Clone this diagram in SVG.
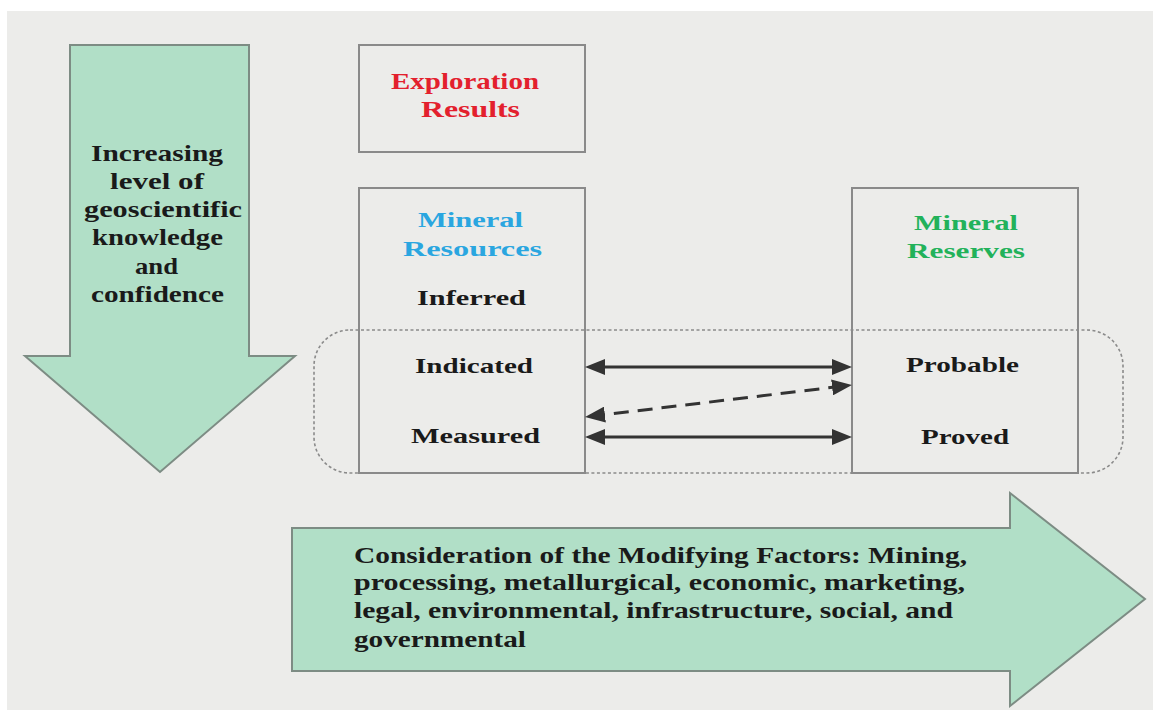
<svg xmlns="http://www.w3.org/2000/svg" width="1153" height="710" viewBox="0 0 1153 710">
<style>
.t{font-family:"Liberation Serif","Times New Roman",serif;font-weight:bold;font-size:22px;fill:#1a1a1a}
.l{font-size:23px}
.b{font-size:24px}
.red{fill:#e3202d;font-size:24px}
.cyan{fill:#2aa6e0}
.green{fill:#22b25a}
.box{fill:none;stroke:#8a8a8a;stroke-width:2}
.big{fill:#b1dfc7;stroke:#7d8c84;stroke-width:2}
.conn{stroke:#333;stroke-width:3;fill:none}
</style>
<defs>
<marker id="ah" markerUnits="userSpaceOnUse" markerWidth="20" markerHeight="16" refX="15" refY="8" orient="auto-start-reverse" viewBox="0 0 20 16">
<path d="M0,0 L20,8 L0,16 z" fill="#333"/>
</marker>
</defs>
<rect x="0" y="0" width="1153" height="710" fill="#ffffff"/>
<rect x="7" y="11" width="1146" height="699" fill="#ececea"/>

<g id="knowledge-arrow">
<path class="big" d="M70,45 L249,45 L249,356 L295,356 L160,472 L25,356 L70,356 Z"/>
<text class="t l" x="91" y="161" textLength="132" lengthAdjust="spacingAndGlyphs">Increasing</text>
<text class="t l" x="110" y="189" textLength="94" lengthAdjust="spacingAndGlyphs">level of</text>
<text class="t l" x="84" y="217" textLength="158" lengthAdjust="spacingAndGlyphs">geoscientific</text>
<text class="t l" x="92" y="245" textLength="131" lengthAdjust="spacingAndGlyphs">knowledge</text>
<text class="t l" x="135" y="274" textLength="43" lengthAdjust="spacingAndGlyphs">and</text>
<text class="t l" x="91" y="302" textLength="133" lengthAdjust="spacingAndGlyphs">confidence</text>
</g>

<g id="modifying-factors-arrow">
<path class="big" d="M292,528 L1010,528 L1010,493 L1145,599 L1010,706 L1010,671 L292,671 Z"/>
<text class="t b" x="354" y="563" textLength="613" lengthAdjust="spacingAndGlyphs">Consideration of the Modifying Factors: Mining,</text>
<text class="t b" x="354" y="590" textLength="611" lengthAdjust="spacingAndGlyphs">processing, metallurgical, economic, marketing,</text>
<text class="t b" x="354" y="618" textLength="599" lengthAdjust="spacingAndGlyphs">legal, environmental, infrastructure, social, and</text>
<text class="t b" x="354" y="647" textLength="172" lengthAdjust="spacingAndGlyphs">governmental</text>
</g>

<g id="group-outline">
<rect x="314" y="330" width="809" height="143" rx="36" ry="36" fill="none" stroke="#8a8a8a" stroke-width="1.6" stroke-dasharray="3 2.5"/>
</g>

<g id="exploration-results">
<rect class="box" x="359" y="45" width="226" height="107"/>
<text class="t red" x="391" y="89" textLength="148" lengthAdjust="spacingAndGlyphs">Exploration</text>
<text class="t red" x="421" y="117" textLength="99" lengthAdjust="spacingAndGlyphs">Results</text>
</g>

<g id="mineral-resources">
<rect class="box" x="359" y="188" width="226" height="285"/>
<text class="t cyan" x="418" y="227" textLength="105" lengthAdjust="spacingAndGlyphs">Mineral</text>
<text class="t cyan" x="403" y="256" textLength="139" lengthAdjust="spacingAndGlyphs">Resources</text>
<text class="t" x="417" y="305" textLength="109" lengthAdjust="spacingAndGlyphs">Inferred</text>
<text class="t" x="415" y="373" textLength="118" lengthAdjust="spacingAndGlyphs">Indicated</text>
<text class="t" x="411" y="443" textLength="129" lengthAdjust="spacingAndGlyphs">Measured</text>
</g>

<g id="mineral-reserves">
<rect class="box" x="852" y="188" width="226" height="285"/>
<text class="t green" x="914" y="230" textLength="104" lengthAdjust="spacingAndGlyphs">Mineral</text>
<text class="t green" x="907" y="258" textLength="118" lengthAdjust="spacingAndGlyphs">Reserves</text>
<text class="t" x="906" y="372" textLength="113" lengthAdjust="spacingAndGlyphs">Probable</text>
<text class="t" x="921" y="444" textLength="88" lengthAdjust="spacingAndGlyphs">Proved</text>
</g>

<g id="connectors">
<line class="conn" x1="590" y1="367" x2="847" y2="367" marker-start="url(#ah)" marker-end="url(#ah)"/>
<line class="conn" x1="590" y1="416.4" x2="847" y2="385.6" stroke-dasharray="15 9" marker-start="url(#ah)" marker-end="url(#ah)"/>
<line class="conn" x1="590" y1="437" x2="847" y2="437" marker-start="url(#ah)" marker-end="url(#ah)"/>
</g>
</svg>
